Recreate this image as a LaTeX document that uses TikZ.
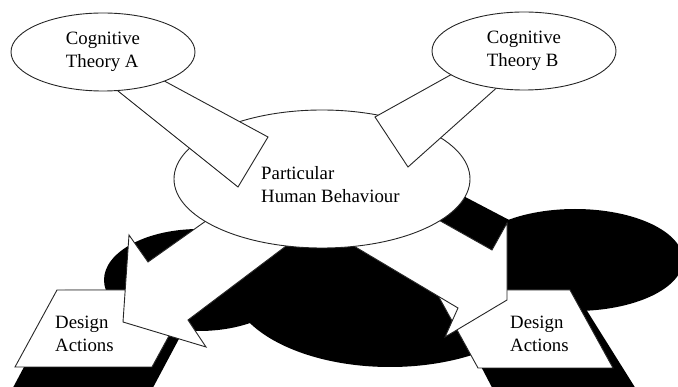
\documentclass[tikz,border=0pt]{standalone}
\usepackage{fontspec}
\setmainfont{Liberation Serif}
\usetikzlibrary{shapes.geometric}

\begin{document}
\begin{tikzpicture}[x=1pt, y=-1pt,
    bubble/.style={draw=black!85, ellipse, fill=white, line width=0.9pt, inner sep=0pt},
    block/.style={draw=black!85, fill=white, line width=0.9pt, line join=miter},
    dark/.style={fill=black},
    txt/.style={font=\fontsize{18.8}{23}\selectfont, align=left, inner sep=0pt}]
  \useasboundingbox (0,0) rectangle (678,387);
  \clip (0,0) rectangle (678,387);

  % shadows
  \fill[dark] (390,282) ellipse [x radius=160pt, y radius=85pt];
  \fill[dark] (199,280) ellipse [x radius=95pt, y radius=51pt];
  \fill[dark] (575,260) ellipse [x radius=108pt, y radius=51pt];
  \fill[dark] (450,189) -- (513,222) -- (510,262) -- (470,262) -- (430,230) -- cycle;
  \fill[dark] (65,290) -- (205,290) -- (148,397) -- (8,397) -- cycle;
  \fill[dark] (441,290) -- (574,290) -- (641,397) -- (497,397) -- cycle;

  % design actions
  \draw[block] (57,290) -- (194,290) -- (152,367) -- (15,367) -- cycle;
  \draw[block] (435,290) -- (570,290) -- (613,368) -- (478,368) -- cycle;
  \node[txt, anchor=west] (designL) at (55,334) {Design\\Actions};
  \node[txt, anchor=west] (designR) at (510,334) {Design\\Actions};

  % block arrows
  \draw[block] (220,211) -- (148,262) -- (129,235) -- (123,322) -- (206,347) -- (188,320) -- (302,234) -- cycle;
  \draw[block] (428,214) -- (492,250) -- (507,223) -- (507,300) -- (445,337) -- (458,308) -- (337,236) -- cycle;

  \node[bubble, minimum width=296pt, minimum height=138pt] (behav) at (322,179) {};
  \node[txt, anchor=west] (behavtext) at (261,185) {Particular\\Human Behaviour};

  % wedges
  \draw[block] (93,71) -- (144,70) -- (268,137) -- (238,187) -- cycle;
  \draw[block] (463,68) -- (375,117) -- (408,167) -- (511,75) -- cycle;

  \node[bubble, txt, minimum width=184pt, minimum height=78pt] (theoA) at (103,52) {Cognitive\\Theory A};
  \node[bubble, txt, minimum width=184pt, minimum height=78pt] (theoB) at (524,51) {Cognitive\\Theory B};
\end{tikzpicture}
\end{document}
